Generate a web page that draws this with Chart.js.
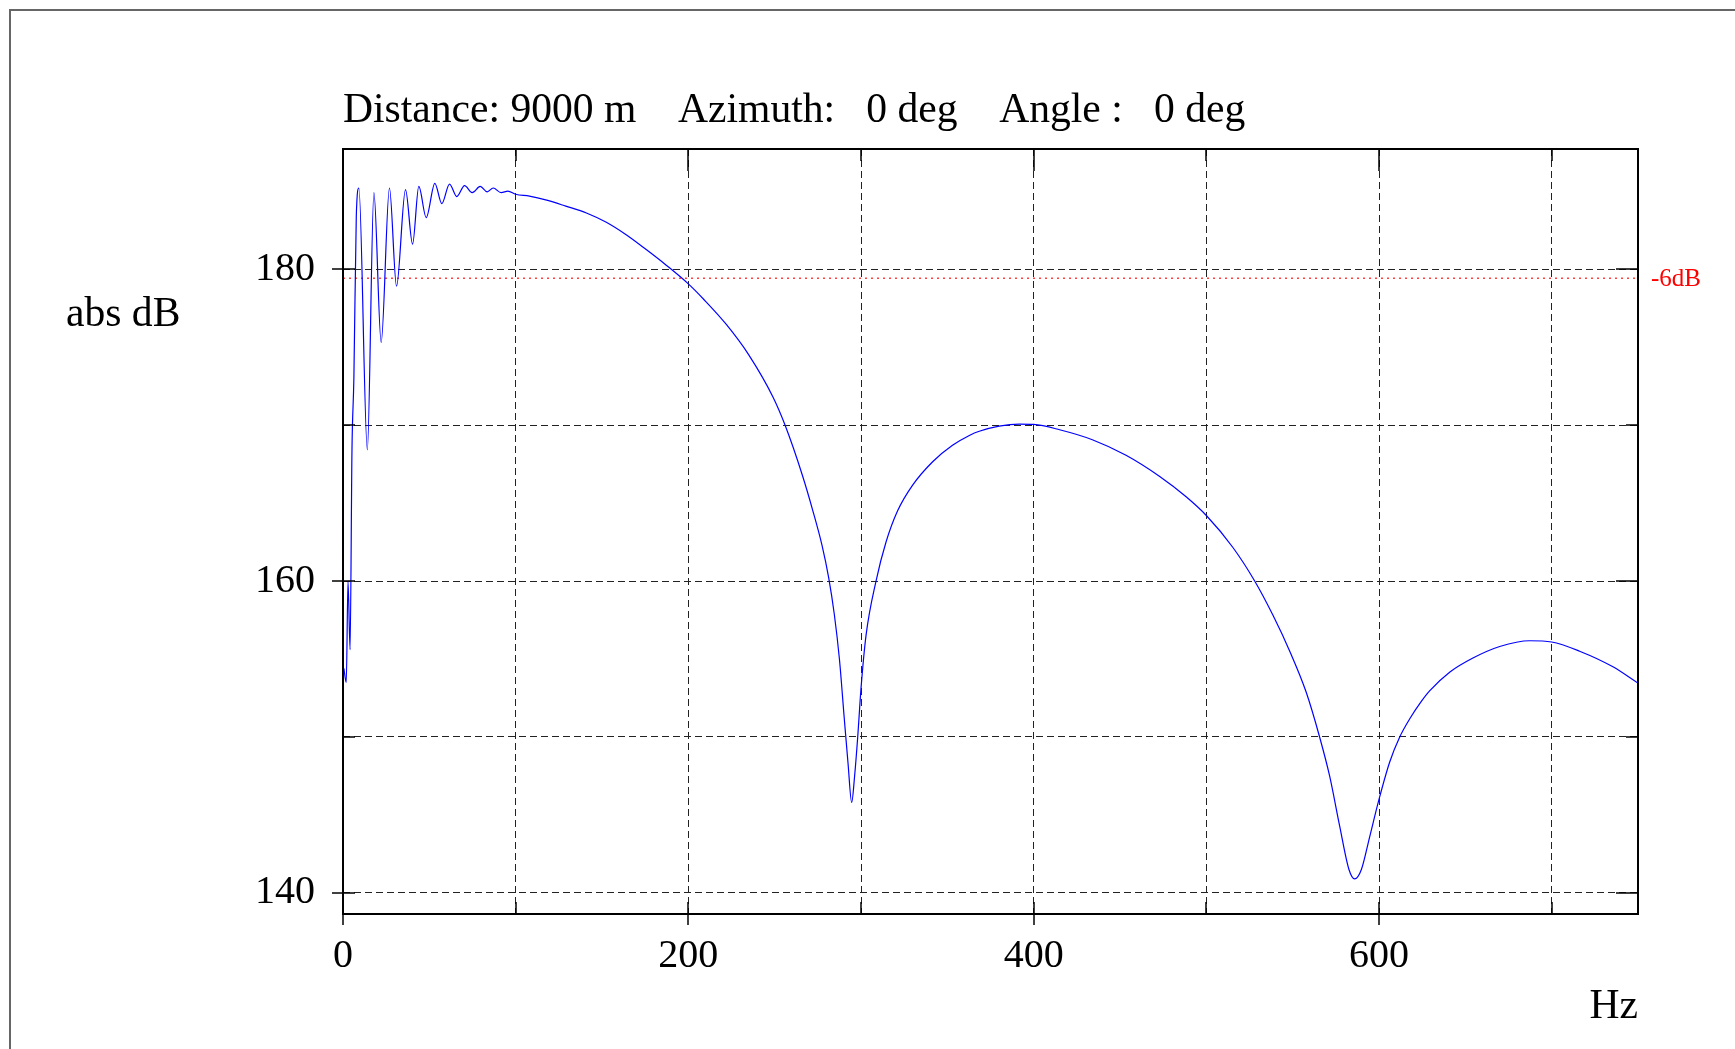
<!DOCTYPE html>
<html>
<head>
<meta charset="utf-8">
<title>abs dB</title>
<script src="https://cdn.jsdelivr.net/npm/chart.js@4.4.1/dist/chart.umd.min.js"></script>
<style>
  html, body { margin: 0; padding: 0; background: #fff; overflow: hidden; }
  #marco { position: absolute; left: 9px; top: 9px; width: 2000px; height: 2000px;
           border-top: 2px solid #666; border-left: 2px solid #666; }
  #grafica { position: absolute; left: 0; top: 0; }
</style>
</head>
<body>
<div id="marco"></div>
<canvas id="grafica" width="1735" height="1049"></canvas>
<script>
// Datos
const freqHz = [
  0.5, 1.9, 2.9, 4.1, 5.2, 6.3, 7.7, 9.2, 14.1, 17.9,
  22.1, 26.9, 31.0, 36.2, 40.3, 43.9, 48.2, 53.2, 57.2, 61.7,
  65.9, 70.4, 74.8, 79.5, 83.5, 87.0, 91.6, 95.5, 100, 108,
  118, 129, 141, 152.5, 164, 175.6, 187.2, 200, 209, 222,
  235, 249, 256, 266, 272, 277.4, 281.3, 284.5, 287.5, 290.3,
  292.5, 294.6, 296.3, 298.1, 300, 302.9, 308.7, 314.5, 321.2, 329.9,
  341.5, 353, 363, 368.5, 380, 391.7, 400, 415, 434, 453.5,
  473, 488.3, 500, 515.4, 528, 538.6, 548.3, 557.9, 565.6, 571.4,
  577.2, 582.6, 585.9, 589.8, 594.6, 600, 606.2, 612, 618, 624,
  629.3, 640.9, 654.4, 669.9, 687.3, 700, 716.2, 735.5, 750
];
const absDb = [
  154.4, 153.5, 160.0, 155.6, 168.4, 173.0, 183.4, 185.2, 168.4, 184.9,
  175.3, 185.2, 178.9, 185.1, 181.6, 185.3, 183.3, 185.5, 184.2, 185.45,
  184.65, 185.35, 184.9, 185.3, 184.95, 185.2, 184.9, 185.0, 184.8, 184.68,
  184.42, 184.04, 183.6, 183.0, 182.2, 181.25, 180.25, 179.05, 178.05, 176.45,
  174.5, 171.8, 170.0, 166.8, 164.55, 162.3, 160.2, 157.9, 155.0, 151.2,
  148.3, 145.8, 147.5, 150.0, 153.1, 156.5, 160.0, 162.5, 164.5, 166.15,
  167.65, 168.7, 169.35, 169.6, 169.93, 170.06, 170.04, 169.7, 169.06, 168.06,
  166.7, 165.4, 164.2, 162.15, 160.0, 157.8, 155.5, 152.85, 150.0, 147.5,
  144.3, 141.5, 140.9, 141.5, 143.6, 146.0, 148.4, 150.0, 151.2, 152.2,
  152.95, 154.15, 155.06, 155.8, 156.17, 156.09, 155.5, 154.5, 153.45
];
const peakDb = 185.42;
const minusSixDb = peakDb - 6;

// Ejes
const xTicks = [0, 100, 200, 300, 400, 500, 600, 700];
const xLabels = [0, 200, 400, 600];
const yTicks = [140, 150, 160, 170, 180];
const yLabels = [140, 160, 180];
const titulo = 'Distance: 9000 m    Azimuth:   0 deg    Angle :   0 deg';
const fuente = 'Liberation Serif';

/**
 * * Plugin para el marco, las marcas de los ejes y los textos
 */
const decoracion = {
  id: 'decoracion',
  afterDraw(chart) {
    const { ctx, chartArea: a, scales: { x, y } } = chart;
    const linea = (x1, y1, x2, y2) => {
      ctx.beginPath();
      ctx.moveTo(x1, y1);
      ctx.lineTo(x2, y2);
      ctx.stroke();
    };
    ctx.save();
    ctx.setLineDash([]);
    ctx.strokeStyle = '#000';

    // Marco del area
    ctx.lineWidth = 2;
    ctx.strokeRect(a.left, a.top, a.right - a.left, a.bottom - a.top);

    // Marcas
    ctx.lineWidth = 1.5;
    xTicks.forEach(v => {
      const px = Math.round(x.getPixelForValue(v));
      const mayor = xLabels.includes(v);
      linea(px, a.bottom + (mayor ? 11 : 0), px, a.bottom - 12);
      linea(px, a.top, px, a.top + (mayor ? 22 : 12));
    });
    yTicks.forEach(v => {
      const py = Math.round(y.getPixelForValue(v));
      const mayor = yLabels.includes(v);
      linea(a.left - (mayor ? 11 : 0), py, a.left + 12, py);
      linea(a.right, py, a.right - (mayor ? 22 : 12), py);
    });

    // Textos
    ctx.fillStyle = '#000';
    ctx.font = '41.6px "' + fuente + '"';
    ctx.textBaseline = 'alphabetic';
    ctx.textAlign = 'left';
    ctx.fillText(titulo, a.left, a.top - 27);
    ctx.fillText('abs dB', a.left - 277, a.top + 177);
    ctx.textAlign = 'right';
    ctx.fillText('Hz', a.right, a.bottom + 104);

    ctx.fillStyle = '#ff0000';
    ctx.font = '25px "' + fuente + '"';
    ctx.textAlign = 'left';
    ctx.textBaseline = 'middle';
    ctx.fillText('-6dB', a.right + 13, y.getPixelForValue(minusSixDb) + 1);
    ctx.restore();
  }
};

const ctx = document.getElementById('grafica');
new Chart(ctx, {
  type: 'line',
  data: {
    datasets: [{
      data: freqHz.map((f, i) => ({ x: f, y: absDb[i] })),
      borderColor: '#0000ff',
      borderWidth: 1.2,
      pointRadius: 0,
      cubicInterpolationMode: 'monotone',
      fill: false
    }, {
      data: [{ x: 0, y: minusSixDb }, { x: 750, y: minusSixDb }],
      borderColor: 'rgba(255, 0, 0, 0.75)',
      borderWidth: 1.5,
      borderDash: [2, 4],
      pointRadius: 0,
      fill: false
    }]
  },
  options: {
    responsive: false,
    animation: false,
    layout: { padding: { top: 149, right: 97, left: 0, bottom: 0 } },
    plugins: { legend: { display: false }, tooltip: { enabled: false } },
    scales: {
      x: {
        type: 'linear',
        min: 0,
        max: 750,
        afterBuildTicks: s => { s.ticks = xTicks.map(v => ({ value: v })); },
        afterFit: s => { s.height = 135; },
        ticks: {
          callback: v => xLabels.includes(v) ? String(v) : '',
          font: { family: fuente, size: 40 },
          color: '#000',
          padding: 18,
          maxRotation: 0,
          autoSkip: false
        },
        grid: { color: '#222', lineWidth: 1, drawTicks: false },
        border: { display: false, dash: [7, 4] }
      },
      y: {
        type: 'linear',
        min: 138.65,
        max: 187.7,
        afterBuildTicks: s => { s.ticks = yTicks.map(v => ({ value: v })); },
        afterFit: s => { s.width = 343; },
        ticks: {
          callback: v => yLabels.includes(v) ? String(v) : '',
          font: { family: fuente, size: 40 },
          color: '#000',
          padding: 28,
          autoSkip: false
        },
        grid: { color: '#222', lineWidth: 1, drawTicks: false },
        border: { display: false, dash: [7, 4] }
      }
    }
  },
  plugins: [decoracion]
});
</script>
</body>
</html>
